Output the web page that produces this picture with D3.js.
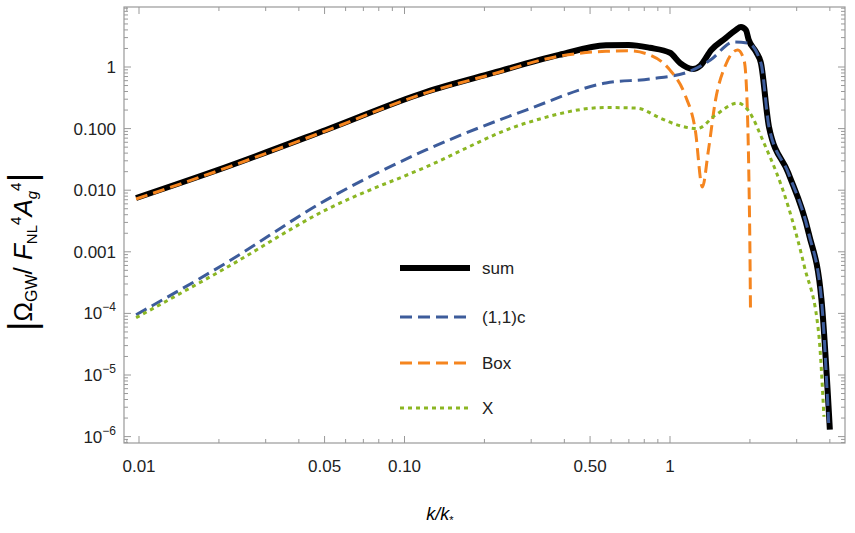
<!DOCTYPE html>
<html><head><meta charset="utf-8">
<script src="https://cdn.jsdelivr.net/npm/d3@7"></script>
<style>body{margin:0;background:#fff}text{font-family:"Liberation Sans",Arial,sans-serif}</style>
</head><body><svg id="chart" width="855" height="533"></svg>
<script>
// data (k/k*, |Omega|)
const sumK = [0.00975,0.0213,0.0506,0.1205,0.2155,0.382,0.574,0.70,0.839,1.0,1.092,1.22,1.30,1.43,1.62,1.77,1.85,1.93,1.98,2.11,2.20,2.36,2.79,3.33,3.72,4.0];
const sumV = [0.00747,0.0238,0.095,0.393,0.80,1.57,2.25,2.28,2.05,1.7,1.16,0.93,1.05,1.89,2.95,4.0,4.46,4.0,2.74,1.75,1.16,0.106,0.019,0.002,1.66e-4,1.3e-6];
const c11K = [0.00975,0.0213,0.0506,0.1205,0.287,0.574,0.839,1.17,1.42,1.738,1.965,2.20,2.36,2.79,3.33,3.72,3.96];
const c11V = [9.5e-5,6.6e-4,0.0069,0.045,0.2,0.55,0.64,0.83,1.3,2.55,2.45,1.16,0.106,0.019,0.002,1.66e-4,1.66e-6];
const boxK = [0.00975,0.0213,0.0506,0.1205,0.2155,0.382,0.574,0.70,0.839,1.0,1.14,1.245,1.324,1.396,1.484,1.62,1.80,1.90,1.95,1.98,2.0,2.01];
const boxV = [0.0072,0.023,0.092,0.38,0.77,1.5,1.8,1.83,1.57,0.89,0.35,0.095,0.0113,0.045,0.29,1.08,1.89,1.3,0.29,0.0213,0.0011,1.04e-4];
const xK = [0.00975,0.0213,0.0506,0.1205,0.287,0.574,0.75,0.916,1.063,1.267,1.484,1.80,1.965,2.26,2.79,3.21,3.63,3.80];
const xV = [8.5e-5,5.5e-4,0.0048,0.0238,0.123,0.22,0.215,0.149,0.115,0.1,0.166,0.26,0.2,0.058,0.0054,0.00057,4.8e-5,2.1e-6];
const xTicks = [0.01,0.05,0.1,1,0.5];
const xTickLabels = ["0.01","0.05","0.10","1","0.50"];
const yTicks = [1,0.1,0.01,0.001,1e-4,1e-5,1e-6];
const yTickLabels = ["1","0.100","0.010","0.001","-4","-5","-6"];
const legendNames = ["sum","(1,1)c","Box","X"];

const svg = d3.select('#chart');
const L = 124, R = 845, T = 7, B = 443;
const x = d3.scaleLog().domain([Math.pow(10,(L-670)/265.5), Math.pow(10,(R-670)/265.5)]).range([L,R]);
const y = d3.scaleLog().domain([Math.pow(10,(67-B)/61.6), Math.pow(10,(67-T)/61.6)]).range([B,T]);

// frame
svg.append('rect').attr('x',L).attr('y',T).attr('width',R-L).attr('height',B-T)
  .attr('fill','none').attr('stroke','#999').attr('stroke-width',1.2);

// minor + major ticks on all sides
const xMinor = [];
for (let d = 0.001; d < 10; d *= 10) for (let m = 1; m < 10; m++) {
  const v = d*m; if (v >= x.domain()[0] && v <= x.domain()[1]) xMinor.push(v);
}
const yMinor = [];
for (let d = 1e-7; d < 10; d *= 10) for (let m = 1; m < 10; m++) {
  const v = d*m; if (v >= y.domain()[0] && v <= y.domain()[1]) yMinor.push(v);
}
const isMajor = v => Math.abs(Math.log10(v) - Math.round(Math.log10(v))) < 1e-6;
const tk = svg.append('g').attr('stroke','#999').attr('stroke-width',1);
xMinor.forEach(v => {
  const len = (isMajor(v) || Math.abs(v-0.05) < 1e-9 || Math.abs(v-0.5) < 1e-9) ? 7 : 4;
  tk.append('line').attr('x1',x(v)).attr('x2',x(v)).attr('y1',B).attr('y2',B-len);
  tk.append('line').attr('x1',x(v)).attr('x2',x(v)).attr('y1',T).attr('y2',T+len);
});
yMinor.forEach(v => {
  const len = isMajor(v) ? 7 : 4;
  tk.append('line').attr('y1',y(v)).attr('y2',y(v)).attr('x1',L).attr('x2',L+len);
  tk.append('line').attr('y1',y(v)).attr('y2',y(v)).attr('x1',R).attr('x2',R-len);
});

// tick labels
xTicks.forEach((v,i) => {
  svg.append('text').attr('x',x(v)).attr('y',472).attr('text-anchor','middle')
    .attr('font-size',17).attr('fill','#222').text(xTickLabels[i]);
});
yTicks.forEach((v,i) => {
  const t = svg.append('text').attr('x',L-8).attr('y',y(v)+6).attr('text-anchor','end')
    .attr('font-size',17).attr('fill','#222');
  if (i < 4) t.text(yTickLabels[i]);
  else { t.append('tspan').text('10'); t.append('tspan').attr('dy',-8).attr('font-size',12).text('\u2212'+yTickLabels[i].slice(1)); }
});

// curves
const line = d3.line().x(d => x(d[0])).y(d => y(d[1])).curve(d3.curveMonotoneX);
const zip = (a,b) => a.map((k,i) => [k,b[i]]);
svg.append('path').datum(zip(sumK,sumV)).attr('d',line).attr('fill','none')
  .attr('stroke','#000').attr('stroke-width',6).attr('stroke-linejoin','round');
svg.append('path').datum(zip(c11K,c11V)).attr('d',line).attr('fill','none')
  .attr('stroke','#3d5c9b').attr('stroke-width',3).attr('stroke-dasharray','12,6');
svg.append('path').datum(zip(boxK,boxV)).attr('d',line).attr('fill','none')
  .attr('stroke','#f5851f').attr('stroke-width',3).attr('stroke-dasharray','12,6');
svg.append('path').datum(zip(xK,xV)).attr('d',line).attr('fill','none')
  .attr('stroke','#8bb623').attr('stroke-width',3).attr('stroke-dasharray','4,4');

// legend
const legStyles = [['#000',6,null],['#3d5c9b',3,'12,6'],['#f5851f',3,'12,6'],['#8bb623',3,'4,4']];
const legY = [268,317,363,408];
legendNames.forEach((n,i) => {
  svg.append('line').attr('x1',400).attr('x2',470).attr('y1',legY[i]).attr('y2',legY[i])
    .attr('stroke',legStyles[i][0]).attr('stroke-width',legStyles[i][1])
    .attr('stroke-dasharray',legStyles[i][2]);
  svg.append('text').attr('x',482).attr('y',legY[i]+6).attr('font-size',17).attr('fill','#222').text(n);
});

// axis labels
const xl = svg.append('text').attr('x',440).attr('y',520).attr('text-anchor','middle')
  .attr('font-family','Liberation Serif').attr('font-size',18).attr('font-style','italic');
xl.append('tspan').text('k/k');
xl.append('tspan').attr('dy',4).attr('font-size',11).attr('font-style','normal').text('*');

const yl = svg.append('text').attr('transform','translate(32,252) rotate(-90)').attr('text-anchor','middle')
  .attr('font-family','Liberation Serif').attr('font-size',26);
yl.append('tspan').attr('font-size',38).attr('dy',3).text('|');
yl.append('tspan').attr('dy',-3).text('\u03A9');
yl.append('tspan').attr('dy',5).attr('font-size',16).attr('font-family','Liberation Sans').text('GW');
yl.append('tspan').attr('dy',-5).text('/  ');
yl.append('tspan').attr('font-style','italic').text('F');
yl.append('tspan').attr('dy',5).attr('font-size',15).text('NL');
yl.append('tspan').attr('dy',-16).attr('font-size',15).text('4');
yl.append('tspan').attr('dy',11).attr('font-style','italic').text('A');
yl.append('tspan').attr('dy',5).attr('font-size',15).attr('font-style','italic').text('g');
yl.append('tspan').attr('dy',-16).attr('font-size',15).text('4');
yl.append('tspan').attr('dy',14).attr('font-size',38).text('|');
</script></body></html>
